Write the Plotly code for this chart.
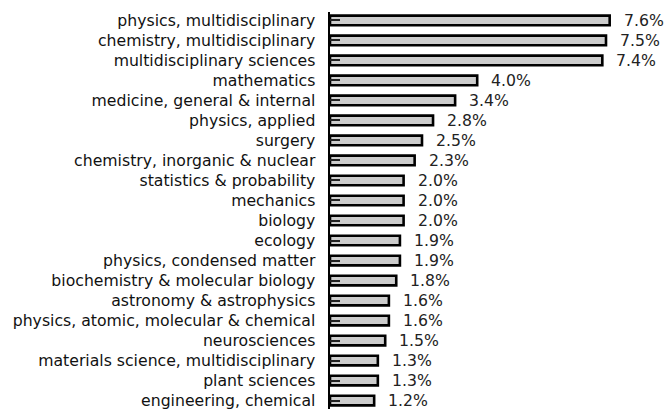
import plotly.graph_objects as go

categories = [
    "physics, multidisciplinary",
    "chemistry, multidisciplinary",
    "multidisciplinary sciences",
    "mathematics",
    "medicine, general & internal",
    "physics, applied",
    "surgery",
    "chemistry, inorganic & nuclear",
    "statistics & probability",
    "mechanics",
    "biology",
    "ecology",
    "physics, condensed matter",
    "biochemistry & molecular biology",
    "astronomy & astrophysics",
    "physics, atomic, molecular & chemical",
    "neurosciences",
    "materials science, multidisciplinary",
    "plant sciences",
    "engineering, chemical",
]
values = [7.6, 7.5, 7.4, 4.0, 3.4, 2.8, 2.5, 2.3, 2.0, 2.0, 2.0, 1.9, 1.9, 1.8, 1.6, 1.6, 1.5, 1.3, 1.3, 1.2]
labels = [f"{v:.1f}%" for v in values]

FONT = "DejaVu Sans"
FS = 15.7

fig = go.Figure()
fig.add_trace(go.Bar(
    x=values, y=categories, orientation="h", width=0.48,
    marker=dict(color="#cccccc", line=dict(color="#000000", width=2.6)),
    hoverinfo="skip",
))
for c, v, t in zip(categories, values, labels):
    fig.add_annotation(x=v, y=c, text=t, showarrow=False, xanchor="left", yanchor="middle",
                       xshift=12, font=dict(family=FONT, size=FS, color="#222222"))

px_per_unit = 36.8
left = 330
W = 665
fig.update_layout(
    width=W, height=409,
    margin=dict(l=left, r=0, t=12, b=0, pad=0, autoexpand=False),
    plot_bgcolor="white", paper_bgcolor="white",
    showlegend=False,
    font=dict(family=FONT, size=FS, color="#111111"),
    xaxis=dict(range=[0, (W - left) / px_per_unit], visible=False, fixedrange=True, automargin=False),
    yaxis=dict(
        type="category", range=[19.42, -0.42], automargin=False, fixedrange=True,
        showline=True, linecolor="#000000", linewidth=2.5,
        ticks="inside", ticklen=10, tickwidth=2, tickcolor="#222222",
        ticklabelstandoff=9, showgrid=False, zeroline=False,
        tickfont=dict(family=FONT, size=FS, color="#111111"),
    ),
)
fig.write_html("out.html", config={"displayModeBar": False, "staticPlot": True},
               post_script="document.body.style.margin='0';document.body.style.overflow='hidden';")
